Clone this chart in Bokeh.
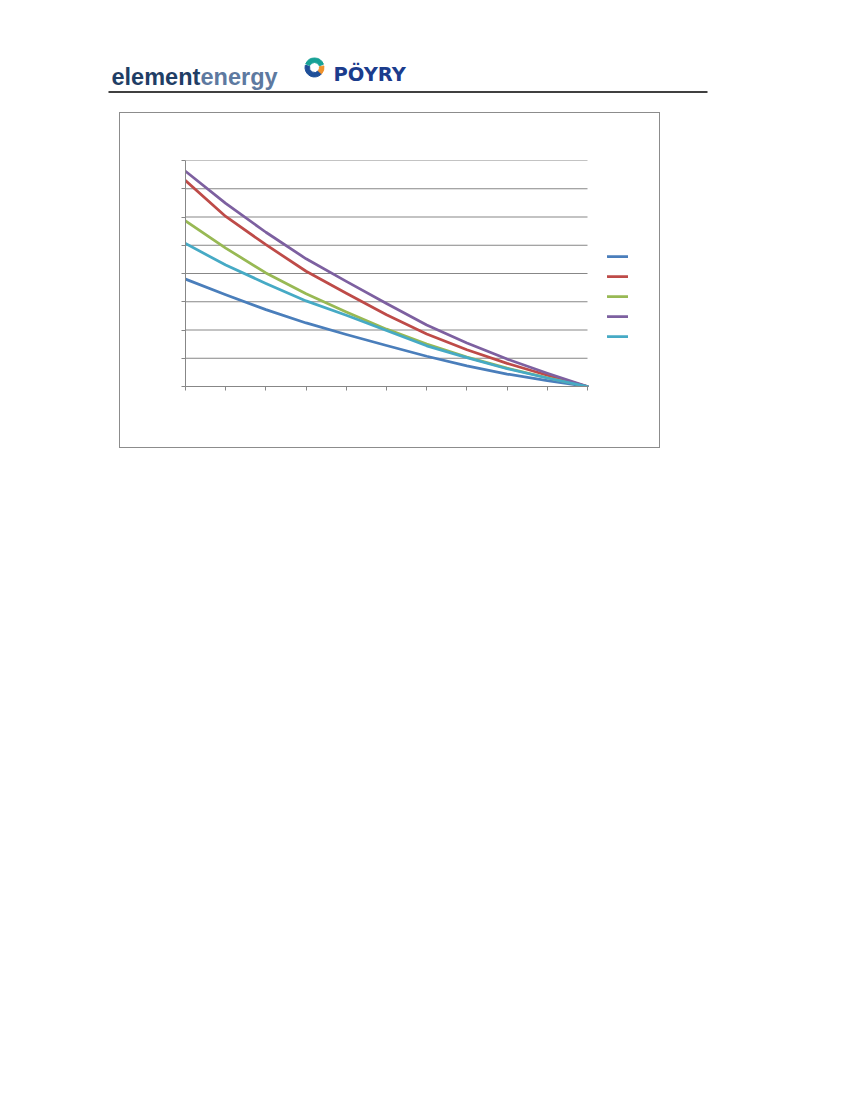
from bokeh.plotting import figure
from bokeh.models import (Range1d, FixedTicker, Legend, LegendItem,
                          CustomJSTickFormatter, Spacer)
from bokeh.layouts import column, row
from bokeh.embed import file_html
from bokeh.resources import INLINE
from bokeh.core.properties import value

# ---------------- data ----------------
x_ticks = [0, 1, 2, 3, 4, 5, 6, 7, 8, 9, 10]
y_ticks = [0, 1, 2, 3, 4, 5, 6, 7, 8]
series_blue = [3.80, 3.25, 2.72, 2.25, 1.84, 1.45, 1.07, 0.73, 0.44, 0.21, 0.0]
series_red = [7.29, 6.02, 5.02, 4.08, 3.30, 2.54, 1.86, 1.30, 0.82, 0.40, 0.0]
series_green = [5.86, 4.90, 4.02, 3.28, 2.64, 2.03, 1.50, 1.04, 0.65, 0.31, 0.0]
series_purple = [7.62, 6.48, 5.46, 4.52, 3.72, 2.94, 2.18, 1.54, 0.97, 0.47, 0.0]
series_cyan = [5.06, 4.30, 3.65, 3.03, 2.52, 1.98, 1.44, 1.02, 0.63, 0.30, 0.0]

colors = ["#4A7EBB", "#BE4B48", "#98B954", "#7D60A0", "#46AAC5"]
series = [series_blue, series_red, series_green, series_purple, series_cyan]

# header texts
brand_a = "element"
brand_b = "energy"
brand_c = "PÖYRY"

# ---------------- header (logos + rule) ----------------
hdr = figure(width=720, height=104, output_backend="svg", toolbar_location=None,
             x_range=Range1d(0, 720), y_range=Range1d(104, 0),
             min_border=0, outline_line_color=None)
hdr.axis.visible = False
hdr.grid.visible = False
hdr.text(x=[111], y=[76], text=[brand_a], text_font=value("Liberation Sans"),
         text_font_style="bold", text_font_size="23.5px", text_color="#1f3e65",
         text_baseline="alphabetic", text_align="left")
hdr.text(x=[200], y=[76], text=[brand_b], text_font=value("Liberation Sans"),
         text_font_style="bold", text_font_size="23.5px", text_color="#5d79a0",
         text_baseline="alphabetic", text_align="left")
# Pöyry ring icon
hdr.annular_wedge(x=[314], y=[67], inner_radius=5.0, outer_radius=9.5,
                  start_angle=[2.9], end_angle=[5.55], color="#1f4f99")
hdr.annular_wedge(x=[314], y=[67], inner_radius=5.0, outer_radius=9.5,
                  start_angle=[5.55], end_angle=[6.45], color="#f0922c")
hdr.annular_wedge(x=[314], y=[67], inner_radius=5.0, outer_radius=9.5,
                  start_angle=[0.35], end_angle=[2.75], color="#17a196")
hdr.text(x=[333], y=[74], text=[brand_c], text_font=value("DejaVu Sans"),
         text_font_style="bold", text_font_size="19.5px", text_color="#1b3c8c",
         text_baseline="alphabetic", text_align="left")
hdr.segment(x0=[108], y0=[91.5], x1=[707], y1=[91.5], line_color="black",
            line_width=1.7)

# ---------------- chart ----------------
# frame spans the plot area plus the legend column; data area is x 0..10
X_MAX = 10 * (650 - 185) / 402.0
p = figure(width=541, height=336, output_backend="svg", toolbar_location=None,
           x_range=Range1d(0, X_MAX), y_range=Range1d(0, 8),
           min_border_left=66, min_border_right=10,
           min_border_top=48, min_border_bottom=62,
           outline_line_color=None, background_fill_color=None,
           border_fill_color=None)
p.styles = {"outline": "1px solid #8c8c8c", "outline-offset": "-1px"}

blank = CustomJSTickFormatter(code="return '';")
for ax in (p.xaxis[0], p.yaxis[0]):
    ax.formatter = blank
    ax.axis_line_color = "#878787"
    ax.axis_line_width = 1
    ax.major_tick_line_color = "#878787"
    ax.major_tick_in = 0
    ax.major_tick_out = 4
    ax.minor_tick_line_color = None
    ax.major_label_text_font_size = "1px"
    ax.major_label_standoff = 0
p.xaxis[0].ticker = FixedTicker(ticks=x_ticks)
p.xaxis[0].bounds = (x_ticks[0], x_ticks[-1])
p.yaxis[0].ticker = FixedTicker(ticks=y_ticks)
p.grid.visible = False

# horizontal gridlines over the data area only
grid_y = y_ticks[1:]
p.segment(x0=[x_ticks[0]] * len(grid_y), x1=[x_ticks[-1]] * len(grid_y),
          y0=grid_y, y1=grid_y, line_color="#878787", line_width=1)

renderers = []
for ys, c in zip(series, colors):
    r = p.line(x_ticks, ys, line_color=c, line_width=2.75,
               line_join="round", line_cap="round")
    renderers.append(r)

legend = Legend(items=[LegendItem(label=value(" "), renderers=[r]) for r in renderers],
                location=(422, 41), glyph_width=21, glyph_height=18,
                label_height=18, label_width=2, spacing=2, padding=10,
                label_text_font_size="9px", border_line_color=None,
                background_fill_alpha=0, margin=0)
p.add_layout(legend, "center")

layout = column(hdr, Spacer(width=10, height=8),
                row(Spacer(width=119, height=336), p))

with open("out.html", "w") as f:
    f.write(file_html(layout, INLINE))
